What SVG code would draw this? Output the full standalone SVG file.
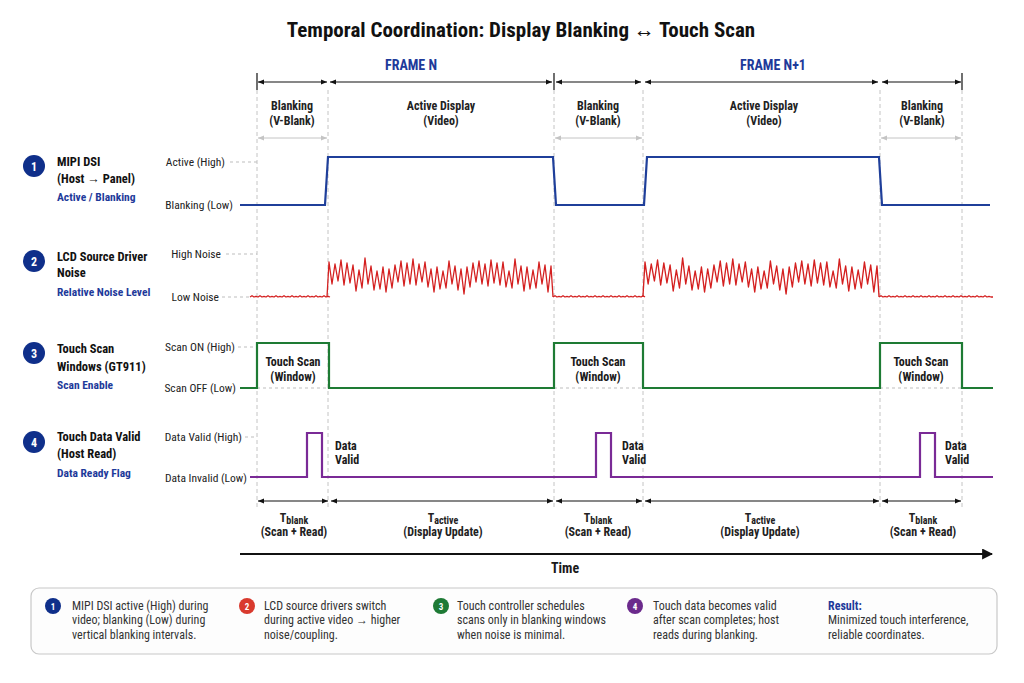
<svg xmlns="http://www.w3.org/2000/svg" width="1024" height="683" viewBox="0 0 1024 683">
<style>
text{font-family:"Liberation Sans Narrow","Roboto Condensed",Roboto,"Liberation Sans",sans-serif;fill:#1a1a1a}
.b{font-weight:bold}
.title{font-size:21px;font-weight:bold;fill:#111}
.frame{font-size:14px;font-weight:bold;fill:#1e3a9a}
.phase{font-size:12px;font-weight:bold;fill:#222;text-anchor:middle}
.rowt{font-size:12.5px;font-weight:bold;fill:#111}
.rows{font-size:11.5px;font-weight:bold;fill:#1e3a9a}
.lvl{font-size:11.5px;fill:#222;text-anchor:end}
.badge{font-size:12px;font-weight:bold;fill:#fff;text-anchor:middle}
.lbadge{font-size:9px;font-weight:bold;fill:#fff;text-anchor:middle}
.leg{font-size:12px;fill:#333}
.tim{font-size:12px;font-weight:bold;fill:#222;text-anchor:middle}
.sub{font-size:10px}
.vguide{stroke:#c4c4c4;stroke-width:1;stroke-dasharray:4 3;fill:none}
.hguide{stroke:#bdbdbd;stroke-width:1;stroke-dasharray:3 3;fill:none}
.dim{stroke:#111;stroke-width:1.2;fill:none;marker-start:url(#ah);marker-end:url(#ah)}
.gdim{stroke:#c4c4c4;stroke-width:1;fill:none;marker-start:url(#gah);marker-end:url(#gah)}
.sig{fill:none;stroke-width:2.2;stroke-linejoin:miter}
</style>
<defs>
<marker id="ah" viewBox="0 0 10 10" refX="10" refY="5" markerWidth="6" markerHeight="6" markerUnits="userSpaceOnUse" orient="auto-start-reverse"><path d="M0,1 L10,5 L0,9 z" fill="#111"/></marker>
<marker id="gah" viewBox="0 0 10 10" refX="10" refY="5" markerWidth="6" markerHeight="6" markerUnits="userSpaceOnUse" orient="auto-start-reverse"><path d="M0,1 L10,5 L0,9 z" fill="#c4c4c4"/></marker>
<marker id="tah" viewBox="0 0 10 10" refX="9" refY="5" markerWidth="11" markerHeight="11" markerUnits="userSpaceOnUse" orient="auto"><path d="M0,0 L10,5 L0,10 z" fill="#111"/></marker>
<path id="burst" d="M-2,297 L0,262 3,284 6,264 9,281 12,260 15,285 18,263 21,283 24,265 27,291 30,270 33,288 36,258 39,284 42,266 45,290 48,271 51,289 54,267 57,292 60,269 63,288 66,265 69,282 72,261 75,286 78,263 81,284 84,259 87,285 90,264 93,282 96,262 99,287 102,269 105,292 108,267 111,289 114,271 117,288 120,261 123,284 126,266 129,290 132,269 135,294 138,267 141,287 144,263 147,282 150,261 153,284 156,264 159,286 162,260 165,283 168,263 171,285 174,262 177,287 180,271 183,288 186,259 189,284 192,266 195,291 198,267 201,289 204,270 207,288 210,262 213,284 216,265 219,292 222,266 224,297"/>
</defs>
<rect width="1024" height="683" fill="#ffffff"/>

<text class="title" x="521" y="37" text-anchor="middle">Temporal Coordination: Display Blanking ↔ Touch Scan</text>

<!-- frame header -->
<g id="frame-header">
<text class="frame" x="411" y="70" text-anchor="middle">FRAME N</text>
<text class="frame" x="773" y="70" text-anchor="middle">FRAME N+1</text>
<path d="M257,73 V90 M554,73 V90 M962,73 V90" stroke="#111" stroke-width="1.2"/>
<line class="dim" x1="258" y1="82" x2="327" y2="82"/>
<line class="dim" x1="330" y1="82" x2="552" y2="82"/>
<line class="dim" x1="556" y1="82" x2="641" y2="82"/>
<line class="dim" x1="645" y1="82" x2="878" y2="82"/>
<line class="dim" x1="882" y1="82" x2="961" y2="82"/>
</g>

<!-- phase labels -->
<g id="phases">
<text class="phase" x="292" y="110">Blanking</text><text class="phase" x="292" y="125">(V-Blank)</text>
<text class="phase" x="441" y="110">Active Display</text><text class="phase" x="441" y="125">(Video)</text>
<text class="phase" x="598" y="110">Blanking</text><text class="phase" x="598" y="125">(V-Blank)</text>
<text class="phase" x="764" y="110">Active Display</text><text class="phase" x="764" y="125">(Video)</text>
<text class="phase" x="922" y="110">Blanking</text><text class="phase" x="922" y="125">(V-Blank)</text>
<line class="gdim" x1="258" y1="138" x2="327" y2="138"/>
<line class="gdim" x1="555" y1="138" x2="642" y2="138"/>
<line class="gdim" x1="881" y1="138" x2="961" y2="138"/>
</g>

<!-- vertical guides -->
<g id="guides">
<path class="vguide" d="M257,90 V508 M328,90 V508 M554,90 V508 M643,90 V508 M880,90 V508 M962,90 V508"/>
<path class="hguide" d="M230,162 H257 M226,254 H257 M222,297 H249 M238,347 H257 M245,437 H257 M257,388 H329 M554,388 H643 M880,388 H962"/>
</g>

<!-- Row 1 -->
<g id="row-mipi">
<circle cx="34" cy="166" r="11" fill="#0f2f8a"/><text class="badge" x="34" y="170.5">1</text>
<text class="rowt" x="57" y="166">MIPI DSI</text>
<text class="rowt" x="57" y="183">(Host → Panel)</text>
<text class="rows" x="57" y="201">Active / Blanking</text>
<text class="lvl" x="225" y="166">Active (High)</text>
<text class="lvl" x="233" y="209">Blanking (Low)</text>
<path class="sig" stroke="#1f3f9a" d="M240,205 H325 L328,157 H553 L556,205 H644 L647,157 H879 L882,205 H990"/>
</g>

<!-- Row 2 -->
<g id="row-noise">
<circle cx="34" cy="261" r="11" fill="#0f2f8a"/><text class="badge" x="34" y="265.5">2</text>
<text class="rowt" x="57" y="261">LCD Source Driver</text>
<text class="rowt" x="57" y="277">Noise</text>
<text class="rows" x="57" y="296">Relative Noise Level</text>
<text class="lvl" x="221" y="258">High Noise</text>
<text class="lvl" x="219" y="301">Low Noise</text>
<g fill="none" stroke="#d42020" stroke-width="1.3" stroke-linejoin="round">
<path d="M250,297 l2,-1.3 l2,1.3 l2,-0.7 l2,0.7 l2,-1.3 l2,1.3 l2,-0.7 l2,0.7 l2,-1.3 l2,1.3 l2,-0.7 l2,0.7 l2,-1.3 l2,1.3 l2,-0.7 l2,0.7 l2,-1.3 l2,1.3 l2,-0.7 l2,0.7 l2,-1.3 l2,1.3 l2,-0.7 l2,0.7 l2,-1.3 l2,1.3 l2,-0.7 l2,0.7 l2,-1.3 l2,1.3 l2,-0.7 l2,0.7 l2,-1.3 l2,1.3 l2,-0.7 l2,0.7 l2,-1.3 l2,1.3 l2,-0.7 l2,0.7"/>
<path d="M553,297 l2,-1.3 l2,1.3 l2,-0.7 l2,0.7 l2,-1.3 l2,1.3 l2,-0.7 l2,0.7 l2,-1.3 l2,1.3 l2,-0.7 l2,0.7 l2,-1.3 l2,1.3 l2,-0.7 l2,0.7 l2,-1.3 l2,1.3 l2,-0.7 l2,0.7 l2,-1.3 l2,1.3 l2,-0.7 l2,0.7 l2,-1.3 l2,1.3 l2,-0.7 l2,0.7 l2,-1.3 l2,1.3 l2,-0.7 l2,0.7 l2,-1.3 l2,1.3 l2,-0.7 l2,0.7 l2,-1.3 l2,1.3 l2,-0.7 l2,0.7 l2,-1.3 l2,1.3 l2,-0.7 l2,0.7 l2,-1.3 l2,1.3"/>
<path d="M879,297 l2,-1.3 l2,1.3 l2,-0.7 l2,0.7 l2,-1.3 l2,1.3 l2,-0.7 l2,0.7 l2,-1.3 l2,1.3 l2,-0.7 l2,0.7 l2,-1.3 l2,1.3 l2,-0.7 l2,0.7 l2,-1.3 l2,1.3 l2,-0.7 l2,0.7 l2,-1.3 l2,1.3 l2,-0.7 l2,0.7 l2,-1.3 l2,1.3 l2,-0.7 l2,0.7 l2,-1.3 l2,1.3 l2,-0.7 l2,0.7 l2,-1.3 l2,1.3 l2,-0.7 l2,0.7 l2,-1.3 l2,1.3 l2,-0.7 l2,0.7 l2,-1.3 l2,1.3 l2,-0.7 l2,0.7 l2,-1.3 l2,1.3 l2,-0.7 l2,0.7 l2,-1.3 l2,1.3 l2,-0.7 l2,0.7 l2,-1.3 l2,1.3 l2,-0.7 l2,0.7 l2,0"/>
<use href="#burst" transform="translate(329,0)"/>
<use href="#burst" transform="translate(645,0) scale(1.045,1)"/>
</g>
</g>

<!-- Row 3 -->
<g id="row-scan">
<circle cx="34" cy="353" r="11" fill="#0f2f8a"/><text class="badge" x="34" y="357.5">3</text>
<text class="rowt" x="57" y="353">Touch Scan</text>
<text class="rowt" x="57" y="371">Windows (GT911)</text>
<text class="rows" x="57" y="389">Scan Enable</text>
<text class="lvl" x="235" y="351">Scan ON (High)</text>
<text class="lvl" x="236" y="392">Scan OFF (Low)</text>
<path class="sig" stroke="#1e7b34" d="M240,388 H257 V343 H329 V388 H554 V343 H643 V388 H880 V343 H962 V388 H993"/>
<g class="b" font-size="12" fill="#1e7b34" text-anchor="middle">
<text x="293" y="366" fill="#1e7b34">Touch Scan</text><text x="293" y="381" fill="#1e7b34">(Window)</text>
<text x="598" y="366" fill="#1e7b34">Touch Scan</text><text x="598" y="381" fill="#1e7b34">(Window)</text>
<text x="921" y="366" fill="#1e7b34">Touch Scan</text><text x="921" y="381" fill="#1e7b34">(Window)</text>
</g>
</g>

<!-- Row 4 -->
<g id="row-data">
<circle cx="34" cy="442" r="11" fill="#0f2f8a"/><text class="badge" x="34" y="446.5">4</text>
<text class="rowt" x="57" y="441">Touch Data Valid</text>
<text class="rowt" x="57" y="458">(Host Read)</text>
<text class="rows" x="57" y="477">Data Ready Flag</text>
<text class="lvl" x="242" y="441">Data Valid (High)</text>
<text class="lvl" x="247" y="482">Data Invalid (Low)</text>
<path class="sig" stroke="#7a2a96" d="M250,477 H307 V433 H322 V477 H596 V433 H611 V477 H920 V433 H935 V477 H993"/>
<g class="b" font-size="12">
<text x="335" y="450" fill="#7a2a96">Data</text><text x="335" y="464" fill="#7a2a96">Valid</text>
<text x="622" y="450" fill="#7a2a96">Data</text><text x="622" y="464" fill="#7a2a96">Valid</text>
<text x="945" y="450" fill="#7a2a96">Data</text><text x="945" y="464" fill="#7a2a96">Valid</text>
</g>
</g>

<!-- timing -->
<g id="timing">
<line class="dim" x1="258" y1="501" x2="328" y2="501"/>
<line class="dim" x1="331" y1="501" x2="553" y2="501"/>
<line class="dim" x1="556" y1="501" x2="642" y2="501"/>
<line class="dim" x1="645" y1="501" x2="879" y2="501"/>
<line class="dim" x1="882" y1="501" x2="961" y2="501"/>
<text class="tim" x="294" y="522">T<tspan class="sub" dy="1.5">blank</tspan></text><text class="tim" x="294" y="536">(Scan + Read)</text>
<text class="tim" x="443" y="522">T<tspan class="sub" dy="1.5">active</tspan></text><text class="tim" x="443" y="536">(Display Update)</text>
<text class="tim" x="598" y="522">T<tspan class="sub" dy="1.5">blank</tspan></text><text class="tim" x="598" y="536">(Scan + Read)</text>
<text class="tim" x="760" y="522">T<tspan class="sub" dy="1.5">active</tspan></text><text class="tim" x="760" y="536">(Display Update)</text>
<text class="tim" x="923" y="522">T<tspan class="sub" dy="1.5">blank</tspan></text><text class="tim" x="923" y="536">(Scan + Read)</text>
<line x1="240" y1="554" x2="992" y2="554" stroke="#111" stroke-width="2.2" marker-end="url(#tah)"/>
<text class="b" x="565" y="573" font-size="14" text-anchor="middle" fill="#111">Time</text>
</g>

<!-- legend -->
<g id="legend">
<rect x="31" y="588" width="966" height="66" rx="8" fill="#fdfdfd" stroke="#c8c8c8" stroke-width="1.2"/>
<circle cx="53" cy="606" r="8" fill="#0f2f8a"/><text class="lbadge" x="53" y="609.5">1</text>
<text class="leg" x="72" y="610">MIPI DSI active (High) during</text>
<text class="leg" x="72" y="624">video; blanking (Low) during</text>
<text class="leg" x="72" y="639">vertical blanking intervals.</text>
<circle cx="247" cy="606" r="8" fill="#d93a2e"/><text class="lbadge" x="247" y="609.5">2</text>
<text class="leg" x="264" y="610">LCD source drivers switch</text>
<text class="leg" x="264" y="624">during active video → higher</text>
<text class="leg" x="264" y="639">noise/coupling.</text>
<circle cx="441" cy="606" r="8" fill="#1e7a35"/><text class="lbadge" x="441" y="609.5">3</text>
<text class="leg" x="457" y="610">Touch controller schedules</text>
<text class="leg" x="457" y="624">scans only in blanking windows</text>
<text class="leg" x="457" y="639">when noise is minimal.</text>
<circle cx="635" cy="606" r="8" fill="#6b2a8c"/><text class="lbadge" x="635" y="609.5">4</text>
<text class="leg" x="653" y="610">Touch data becomes valid</text>
<text class="leg" x="653" y="624">after scan completes; host</text>
<text class="leg" x="653" y="639">reads during blanking.</text>
<text class="leg b" x="828" y="610" style="fill:#1e3a9a">Result:</text>
<text class="leg" x="828" y="624">Minimized touch interference,</text>
<text class="leg" x="828" y="639">reliable coordinates.</text>
</g>
</svg>
